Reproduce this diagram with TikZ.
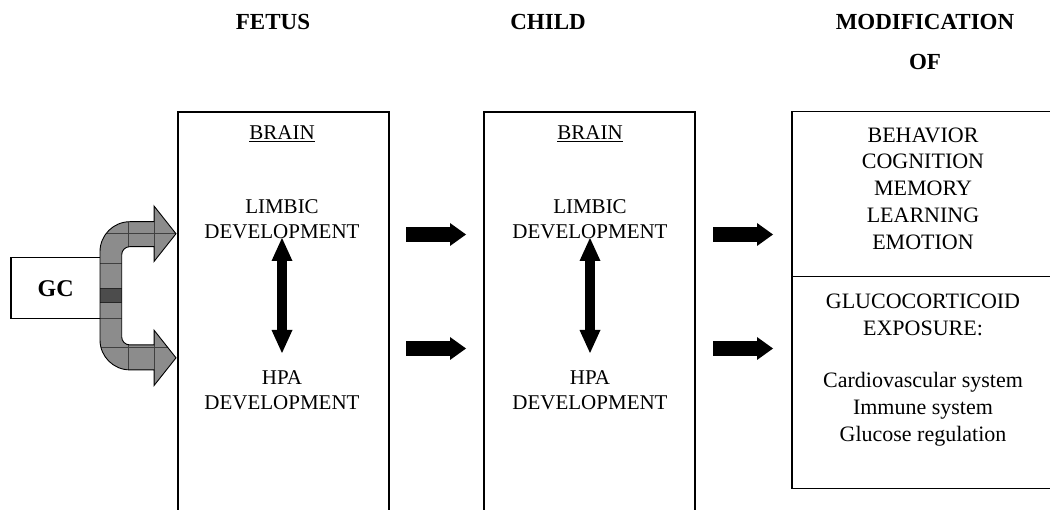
\documentclass[tikz,border=0pt]{standalone}
\usepackage{fontspec}
\setmainfont{Liberation Serif}
\usetikzlibrary{arrows.meta}
\begin{document}
\begin{tikzpicture}[x=1pt,y=-1pt,
  stage/.style={draw,line width=1.8pt,minimum width=211pt,minimum height=430pt,
    anchor=north west,inner sep=0pt},
  outbox/.style={draw,line width=1.5pt,minimum width=270pt,anchor=north west,inner sep=0pt},
  head/.style={font=\bfseries\fontsize{23}{40}\selectfont,inner sep=0pt},
  txt/.style={font=\fontsize{21}{25}\selectfont,align=center,inner sep=0pt},
  rtxt/.style={font=\fontsize{22}{26.8}\selectfont,align=center,inner sep=0pt},
  fat/.style={line width=15pt,-{Triangle[length=16pt,width=23pt,line width=0pt]}},
  dbl/.style={line width=10pt,
    {Triangle[length=23pt,width=21pt,line width=0pt]}-{Triangle[length=23pt,width=21pt,line width=0pt]}},
  gcfill/.style={fill=black!45},
  gridline/.style={draw=black!75,line width=0.6pt}
]
\useasboundingbox (0,0) rectangle (1050,510);
\clip (0,0) rectangle (1050,510);

% column headings
\node[head] (hfetus) at (273,22) {FETUS};
\node[head] (hchild) at (548,22) {CHILD};
\node[head,align=center] (hmod) at (925,42) {MODIFICATION\\OF};

% fetus and child brain panels
\node[stage] (fetus) at (177,111) {};
\node[stage] (child) at (483,111) {};

\node[txt] (fbrain) at (282,134) {\underline{BRAIN}};
\node[txt] (flimbic) at (282,219.5) {LIMBIC\\DEVELOPMENT};
\node[txt] (fhpa) at (282,390.5) {HPA\\DEVELOPMENT};

\node[txt] (cbrain) at (590,134) {\underline{BRAIN}};
\node[txt] (climbic) at (590,219.5) {LIMBIC\\DEVELOPMENT};
\node[txt] (chpa) at (590,390.5) {HPA\\DEVELOPMENT};

% outcome panels
\node[outbox,minimum height=165pt] (effects) at (791,111) {};
\node[outbox,minimum height=212pt] (exposure) at (791,276) {};
\node[rtxt] (efftext) at (923,188.5) {BEHAVIOR\\COGNITION\\MEMORY\\LEARNING\\EMOTION};
\node[rtxt] (gctext) at (923,315) {GLUCOCORTICOID\\EXPOSURE:};
\node[rtxt] (systems) at (923,409) {Cardiovascular system\\Immune system\\Glucose regulation};

% glucocorticoid source
\node[draw,line width=1.5pt,minimum width=90pt,minimum height=61pt,anchor=north west,
  inner sep=0pt,font=\bfseries\fontsize{24}{28}\selectfont] (gc) at (10,257) {GC};

% split arrow from GC into the fetal brain
\def\splitarrow{(100,251.7) .. controls (100,235.1) and (113.4,221.7) .. (130,221.7)
  -- (154,221.7) -- (154,206) -- (176,233.75) -- (154,261.5) -- (154,246.7)
  -- (129.7,246.7) .. controls (125.3,246.7) and (121.7,250.3) .. (121.7,254.7)
  -- (121.7,336.9) .. controls (121.7,341.3) and (125.3,344.9) .. (129.7,344.9)
  -- (154,344.9) -- (154,330.1) -- (176,357.85) -- (154,385.6) -- (154,369.9)
  -- (130,369.9) .. controls (113.4,369.9) and (100,356.5) .. (100,339.9) -- cycle}
\begin{scope}
\clip \splitarrow;
\fill[gcfill] (95,200) rectangle (180,390);
\foreach \yy in {233,263,318,347}
  \draw[gridline] (95,\yy) -- (180,\yy);
\foreach \xx in {128,154}
  \draw[gridline] (\xx,200) -- (\xx,390);
\fill[black!70] (95,288) rectangle (125,302);
\draw[black!85,line width=0.8pt] (95,288) -- (125,288) (95,302) -- (125,302);
\end{scope}
\draw[line width=0.9pt] \splitarrow;

% limbic <-> HPA interaction
\coordinate (fup) at (282,238);
\coordinate (fdn) at (282,353);
\coordinate (cup) at (590,238);
\coordinate (cdn) at (590,353);
\draw[dbl] (fup) -- (fdn);
\draw[dbl] (cup) -- (cdn);

% fetus -> child -> outcome
\coordinate (fc1a) at (406,234.5);
\coordinate (fc1b) at (466,234.5);
\coordinate (fc2a) at (406,348.5);
\coordinate (fc2b) at (466,348.5);
\coordinate (co1a) at (713,234.5);
\coordinate (co1b) at (773,234.5);
\coordinate (co2a) at (713,348.5);
\coordinate (co2b) at (773,348.5);
\draw[fat] (fc1a) -- (fc1b);
\draw[fat] (fc2a) -- (fc2b);
\draw[fat] (co1a) -- (co1b);
\draw[fat] (co2a) -- (co2b);
\end{tikzpicture}
\end{document}
